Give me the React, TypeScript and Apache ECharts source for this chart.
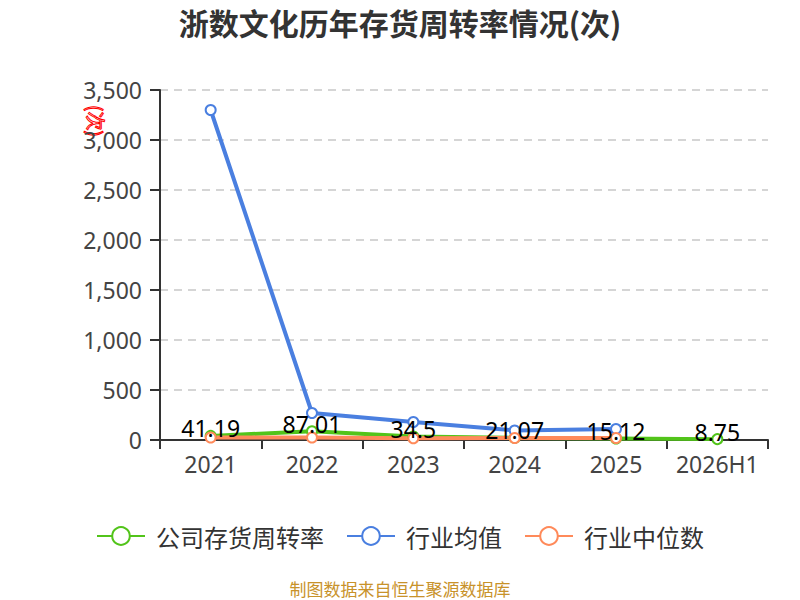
import React, { useEffect, useRef } from "react";
import * as echarts from "echarts";

const categories = ["2021", "2022", "2023", "2024", "2025", "2026H1"];
const companyValues = [41.19, 87.01, 34.5, 21.07, 15.12, 8.75];
const industryMean = [3300, 270, 180, 95, 110, null];
const industryMedian = [25, 25, 18, 20, 20, null];

export default function App() {
  const ref = useRef<HTMLDivElement>(null);
  useEffect(() => {
    if (!ref.current) return;
    const chart = echarts.init(ref.current, undefined, { renderer: "svg" });
    const font = "'Noto Sans', 'Noto Sans CJK SC', sans-serif";
    const cjk = "'Noto Sans CJK SC', 'Noto Sans', sans-serif";
    chart.setOption({
      animation: false,
      textStyle: { fontFamily: font },
      title: {
        text: "浙数文化历年存货周转率情况(次)",
        left: "center",
        top: 2,
        textStyle: { fontSize: 30, fontWeight: "bold", color: "#333", fontFamily: cjk },
      },
      grid: { left: 160, right: 32, top: 90, bottom: 160 },
      legend: {
        top: 519,
        left: "center",
        itemWidth: 48,
        itemHeight: 22,
        itemGap: 22,
        textStyle: { fontSize: 24, color: "#333", fontFamily: cjk, padding: [0, 0, 0, 6] },
        data: ["公司存货周转率", "行业均值", "行业中位数"],
      },
      graphic: [
        {
          type: "text",
          left: "center",
          top: 580,
          style: {
            text: "制图数据来自恒生聚源数据库",
            fill: "#c8922a",
            fontSize: 17,
            fontFamily: cjk,
          },
        },
        {
          type: "text",
          x: 96,
          y: 105,
          rotation: -Math.PI / 2,
          style: {
            text: "(次)",
            fill: "none",
            stroke: "#ff0000",
            lineWidth: 1,
            fontSize: 19,
            verticalAlign: "middle",
            fontFamily: cjk,
          },
        },
      ],
      xAxis: {
        type: "category",
        data: categories,
        boundaryGap: true,
        axisLine: { lineStyle: { color: "#333", width: 2 } },
        axisTick: { show: true, length: 9, lineStyle: { color: "#333", width: 2 } },
        axisLabel: { fontSize: 23, color: "#444", margin: 12, interval: 0, fontFamily: font },
      },
      yAxis: {
        type: "value",
        min: 0,
        max: 3500,
        interval: 500,
        axisLine: { show: true, lineStyle: { color: "#333", width: 2 } },
        axisTick: { show: true, length: 10, lineStyle: { color: "#333", width: 2 } },
        axisLabel: { fontSize: 23, color: "#444", margin: 18, fontFamily: font },
        splitLine: { lineStyle: { color: "#c8c8c8", type: [8, 6], width: 1.5 } },
      },
      series: [
        {
          name: "公司存货周转率",
          type: "line",
          data: companyValues,
          symbol: "emptyCircle",
          symbolSize: 10,
          lineStyle: { width: 4, color: "#52c41a" },
          itemStyle: { color: "#52c41a", borderWidth: 2 },
          label: {
            show: true,
            position: "top",
            distance: -10,
            fontSize: 23,
            color: "#000",
            fontFamily: font,
          },
        },
        {
          name: "行业均值",
          type: "line",
          data: industryMean,
          symbol: "emptyCircle",
          symbolSize: 10,
          lineStyle: { width: 4, color: "#4a7fe0" },
          itemStyle: { color: "#4a7fe0", borderWidth: 2 },
        },
        {
          name: "行业中位数",
          type: "line",
          data: industryMedian,
          symbol: "emptyCircle",
          symbolSize: 10,
          lineStyle: { width: 4, color: "#ff8a5a" },
          itemStyle: { color: "#ff8a5a", borderWidth: 2 },
        },
      ],
    });
    return () => chart.dispose();
  }, []);
  return (
    <div
      ref={ref}
      style={{ position: "absolute", left: 0, top: 0, width: 800, height: 600 }}
    />
  );
}
